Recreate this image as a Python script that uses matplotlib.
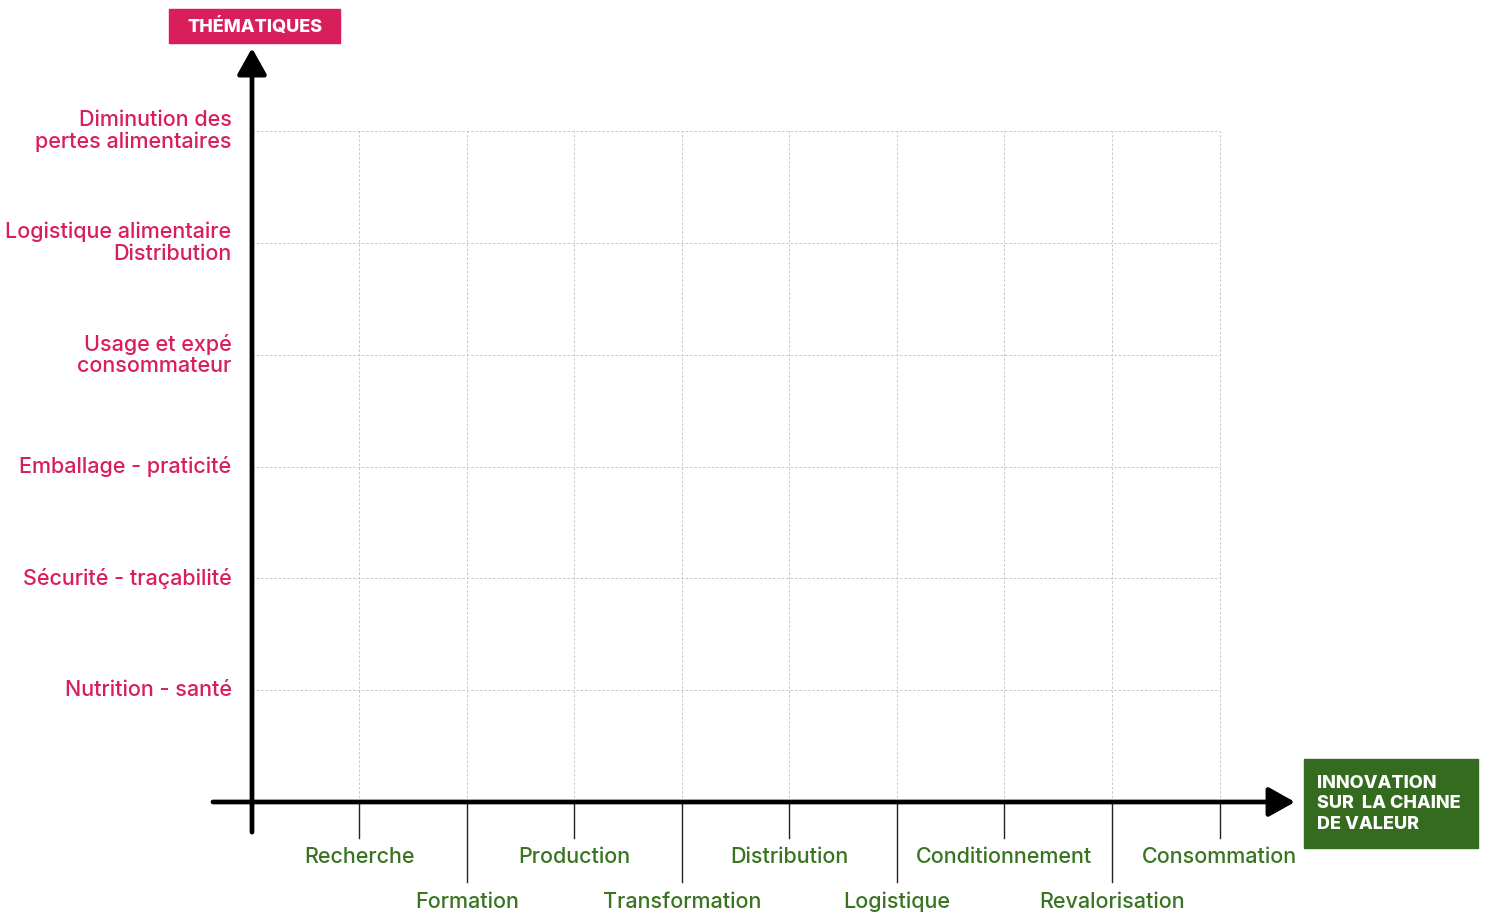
import matplotlib
matplotlib.use("Agg")
import matplotlib.pyplot as plt
from matplotlib.patches import Rectangle

plt.rcParams['font.family'] = ['Inter', 'DejaVu Sans']

# value chain steps (x axis), in order
etapes = ["Recherche", "Formation", "Production", "Transformation", "Distribution",
          "Logistique", "Conditionnement", "Revalorisation", "Consommation"]
# themes (y axis), bottom to top
thematiques = ["Nutrition - santé", "Sécurité - traçabilité", "Emballage - praticité",
               "Usage et expé\nconsommateur", "Logistique alimentaire\nDistribution",
               "Diminution des\npertes alimentaires"]

titre_y = "THÉMATIQUES"
titre_x = "INNOVATION\nSUR  LA CHAINE\nDE VALEUR"

PINK = "#d81e5b"
GREEN = "#3a7422"
BOXGREEN = "#356b1e"
GRID = "#c8c8c8"

W, H = 1486, 914
fig = plt.figure(figsize=(W / 100, H / 100), dpi=100)
ax = fig.add_axes([0, 0, 1, 1])
ax.set_xlim(-2.344, 11.479)
ax.set_ylim(-1.002, 7.174)
ax.axis("off")

nx = len(etapes)
ny = len(thematiques)
xs = list(range(1, nx + 1))
ys = list(range(1, ny + 1))

# dashed grid
for x in xs:
    ax.plot([x, x], [0, ny], color=GRID, lw=0.7, ls=(0, (2.5, 2)), zorder=1)
for y in ys:
    ax.plot([0, nx], [y, y], color=GRID, lw=0.7, ls=(0, (2.5, 2)), zorder=1)

# ticks + labels under the x axis (alternating rows)
for i, (x, lab) in enumerate(zip(xs, etapes)):
    if i % 2 == 0:
        ax.plot([x, x], [0, -0.32], color="#222222", lw=1, zorder=2)
        ax.text(x, -0.49, lab, ha="center", va="center", color=GREEN, fontsize=15.5,
                fontweight="medium")
    else:
        ax.plot([x, x], [0, -0.72], color="#222222", lw=1, zorder=2)
        ax.text(x, -0.895, lab, ha="center", va="center", color=GREEN, fontsize=15.5,
                fontweight="medium")

# y labels
for y, lab in zip(ys, thematiques):
    ax.text(-0.19, y, lab, ha="right", va="center", color=PINK, fontsize=15.5,
            fontweight="medium", linespacing=1.1)

# axes with arrows
arrow = dict(arrowstyle="-|>,head_length=0.5,head_width=0.28", lw=3.4,
             color="black", mutation_scale=32, shrinkA=0, shrinkB=0)
ax.annotate("", xy=(9.702, 0), xytext=(-0.363, 0), arrowprops=arrow, zorder=5)
ax.annotate("", xy=(0, 6.744), xytext=(0, -0.27), arrowprops=arrow, zorder=5)

# title boxes
def fx(px):
    return px / W

def fy(py):
    return 1 - py / H

fig.patches.append(Rectangle((fx(169), fy(43)), fx(340) - fx(169), fy(9) - fy(43),
                             transform=fig.transFigure, color=PINK, zorder=0))
fig.text(fx(254.5), fy(27), titre_y, ha="center", va="center", color="white",
         fontsize=13, fontweight=800)

fig.patches.append(Rectangle((fx(1304), fy(848)), fx(1478) - fx(1304), fy(759) - fy(848),
                             transform=fig.transFigure, color=BOXGREEN, zorder=0))
fig.text(fx(1317), fy(804), titre_x, ha="left", va="center", color="white",
         fontsize=13, fontweight=800, linespacing=1.3)

fig.savefig("out.png", dpi=100)
